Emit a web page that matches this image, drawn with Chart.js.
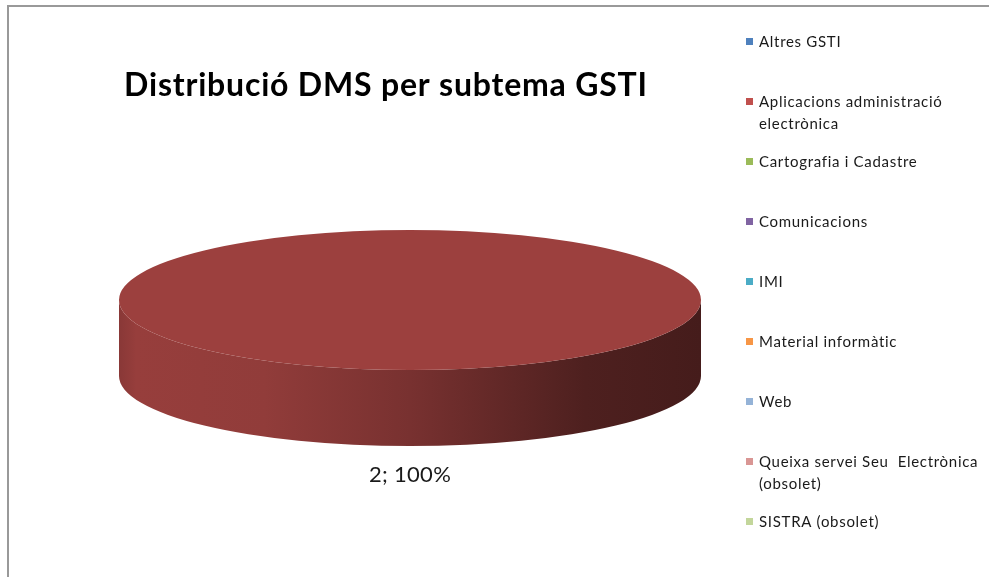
<!DOCTYPE html>
<html>
<head>
<meta charset="utf-8">
<script src="https://cdn.jsdelivr.net/npm/chart.js@4.4.1/dist/chart.umd.min.js"></script>
<style>
  html, body { margin: 0; padding: 0; background: #fff; overflow: hidden; }
  #marc { position: absolute; left: 7px; top: 5px; width: 1000px; height: 600px;
          border-left: 2px solid #999; border-top: 2px solid #999; }
  #grafic { position: absolute; left: 0; top: 0; }
</style>
</head>
<body>
<div id="marc"></div>
<canvas id="grafic" width="989" height="577"></canvas>
<script>
// Dades del gràfic
const titol = 'Distribució DMS per subtema GSTI';
const subtemes = [
  'Altres GSTI',
  ['Aplicacions administració', 'electrònica'],
  'Cartografia i Cadastre',
  'Comunicacions',
  'IMI',
  'Material informàtic',
  'Web',
  ['Queixa servei Seu  Electrònica', '(obsolet)'],
  'SISTRA (obsolet)'
];
const valors = [0, 2, 0, 0, 0, 0, 0, 0, 0];
const colors = ['#4F81BD', '#C0504D', '#9BBB59', '#8064A2', '#4BACC6',
                '#F79646', '#95B3D7', '#D99694', '#C3D69B'];
const colorsTapa = ['#3F6797', '#9C403E', '#7C9647', '#664F82', '#3C899E',
                    '#C5783B', '#778FAC', '#AE7876', '#9CAB7C'];

// Perspectiva del pastís 3D
const radiX = 291, radiY = 70, gruix = 76;

function foscor(hex, f) {
  const n = parseInt(hex.slice(1), 16);
  const r = Math.round(((n >> 16) & 255) * f);
  const g = Math.round(((n >> 8) & 255) * f);
  const b = Math.round((n & 255) * f);
  return `rgb(${r},${g},${b})`;
}

// Aplica la transformació el·líptica i dibuixa el costat del pastís
const pastis3D = {
  id: 'pastis3D',
  beforeDatasetsDraw(chart) {
    const ctx = chart.ctx;
    const arcs = chart.getDatasetMeta(0).data;
    const cx = arcs[0].x, cy = arcs[0].y, r = arcs[0].outerRadius;
    const sx = radiX / r, sy = radiY / r;
    ctx.save();
    ctx.translate(cx, cy);
    ctx.scale(sx, sy);
    ctx.translate(-cx, -cy);
    const d = gruix / sy;
    arcs.forEach((arc, i) => {
      if (!valors[i]) return;
      let a0 = Math.max(arc.startAngle, 0), a1 = Math.min(arc.endAngle, Math.PI);
      if (a1 <= a0) return;
      const base = colorsTapa[i];
      const grad = ctx.createLinearGradient(cx - r, 0, cx + r, 0);
      grad.addColorStop(0, foscor(base, 0.88));
      grad.addColorStop(0.03, foscor(base, 0.97));
      grad.addColorStop(0.25, foscor(base, 0.93));
      grad.addColorStop(0.5, foscor(base, 0.77));
      grad.addColorStop(0.8, foscor(base, 0.5));
      grad.addColorStop(1, foscor(base, 0.44));
      ctx.beginPath();
      ctx.arc(cx, cy, r, a0, a1);
      ctx.arc(cx, cy + d, r, a1, a0, true);
      ctx.closePath();
      ctx.fillStyle = grad;
      ctx.fill();
    });
  },
  afterDatasetsDraw(chart) {
    chart.ctx.restore();
  },
  afterDraw(chart) {
    const ctx = chart.ctx;
    const arcs = chart.getDatasetMeta(0).data;
    const total = valors.reduce((a, b) => a + b, 0);
    ctx.save();
    // Títol
    ctx.fillStyle = '#000';
    ctx.font = 'bold 32px Lato, "Liberation Sans Narrow", sans-serif';
    ctx.letterSpacing = '0.8px';
    ctx.textAlign = 'center';
    ctx.textBaseline = 'middle';
    ctx.fillText(titol, 386, 86);
    // Etiquetes de dades
    ctx.font = '22px Lato, "Open Sans", sans-serif';
    ctx.letterSpacing = '0.3px';
    ctx.fillStyle = '#1a1a1a';
    arcs.forEach((arc, i) => {
      if (!valors[i]) return;
      const pct = Math.round(valors[i] / total * 100);
      ctx.fillText(`${valors[i]}; ${pct}%`, arc.x, arc.y + radiY + gruix + 29);
    });
    // Llegenda
    ctx.font = '15px Lato, "Open Sans", sans-serif';
    ctx.letterSpacing = '0.7px';
    ctx.textAlign = 'left';
    subtemes.forEach((s, i) => {
      const y = 42 + i * 60;
      ctx.fillStyle = colors[i];
      ctx.fillRect(746, y - 4, 7, 7);
      ctx.fillStyle = '#1a1a1a';
      const linies = Array.isArray(s) ? s : [s];
      linies.forEach((t, j) => ctx.fillText(t, 759, y + j * 22));
    });
    ctx.restore();
  }
};

new Chart(document.getElementById('grafic'), {
  type: 'pie',
  data: {
    labels: subtemes,
    datasets: [{
      data: valors,
      backgroundColor: colorsTapa,
      borderWidth: 0
    }]
  },
  options: {
    responsive: false,
    animation: false,
    events: [],
    layout: { padding: { left: 210, right: 379, top: 100, bottom: 77 } },
    plugins: {
      legend: { display: false },
      title: { display: false },
      tooltip: { enabled: false }
    }
  },
  plugins: [pastis3D]
});
</script>
</body>
</html>
